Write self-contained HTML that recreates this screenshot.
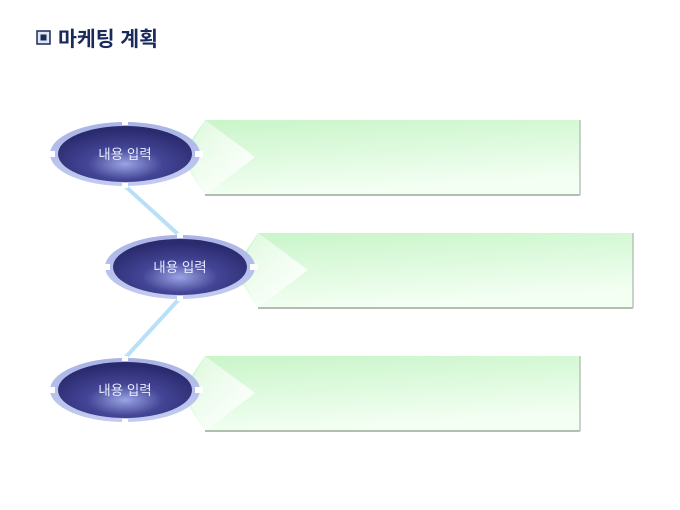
<!DOCTYPE html>
<html><head><meta charset="utf-8"><style>
body{margin:0;background:#fff;width:680px;height:510px;overflow:hidden}
svg{display:block}
</style></head><body>
<svg width="680" height="510" viewBox="0 0 680 510" xmlns="http://www.w3.org/2000/svg">
<defs>
<linearGradient id="pg" x1="0" y1="0" x2="0.3" y2="1">
<stop offset="0" stop-color="#c8f5c8"/><stop offset="1" stop-color="#f4fff4"/>
</linearGradient>
<linearGradient id="cg" x1="0" y1="0" x2="1" y2="0">
<stop offset="0" stop-color="#ffffff" stop-opacity="0.3"/><stop offset="1" stop-color="#ffffff" stop-opacity="0.85"/>
</linearGradient>
<radialGradient id="eg" cx="0.5" cy="0.68" r="0.62">
<stop offset="0" stop-color="#9aa4e4"/><stop offset="0.45" stop-color="#444596"/><stop offset="1" stop-color="#2a2a6e"/>
</radialGradient>
<linearGradient id="rg" x1="0" y1="0" x2="0" y2="1">
<stop offset="0" stop-color="#a9b4e6"/><stop offset="1" stop-color="#c3cbf0"/>
</linearGradient>
<g id="panel">
<polygon points="-25,37 0,0 375,0 375,75 0,75" fill="url(#pg)"/>
<polygon points="0,0 50,37 0,75 -20,37" fill="url(#cg)"/>
<line x1="0" y1="75" x2="375" y2="75" stroke="#9aa89a" stroke-width="1.5"/>
<line x1="375" y1="0" x2="375" y2="75" stroke="#b8c4b8" stroke-width="1.5"/>
</g>
<g id="node">
<ellipse cx="0" cy="0" rx="75" ry="32" fill="url(#rg)"/>
<rect x="-78" y="-3" width="8" height="6" fill="#fff"/>
<rect x="70" y="-3" width="8" height="6" fill="#fff"/>
<rect x="-3" y="-34" width="6" height="5" fill="#fff"/>
<rect x="-3" y="29" width="6" height="5" fill="#fff"/>
<ellipse cx="0" cy="0" rx="67" ry="28" fill="url(#eg)"/>
<text x="0" y="5" text-anchor="middle" font-family="Liberation Sans, 'Noto Sans CJK KR', sans-serif" font-size="13.5" fill="#e8ecff">내용 입력</text>
</g>
</defs>
<rect x="37" y="31" width="13" height="13" fill="#dfe6f2" stroke="#1a2a5a" stroke-width="1.5"/>
<rect x="40.5" y="34.5" width="6" height="6" fill="#1a2a5a"/>
<text x="58" y="46" font-family="Liberation Sans, 'Noto Sans CJK KR', sans-serif" font-size="20.5" font-weight="bold" fill="#1a2a5a">마케팅 계획</text>
<line x1="125" y1="186" x2="180" y2="236" stroke="#b8e0f8" stroke-width="4"/>
<line x1="180" y1="298" x2="125" y2="358" stroke="#b8e0f8" stroke-width="4"/>
<use href="#panel" x="205" y="120"/>
<use href="#panel" x="258" y="233"/>
<use href="#panel" x="205" y="356"/>
<use href="#node" x="125" y="154"/>
<use href="#node" x="180" y="267"/>
<use href="#node" x="125" y="390"/>
</svg>
</body></html>
